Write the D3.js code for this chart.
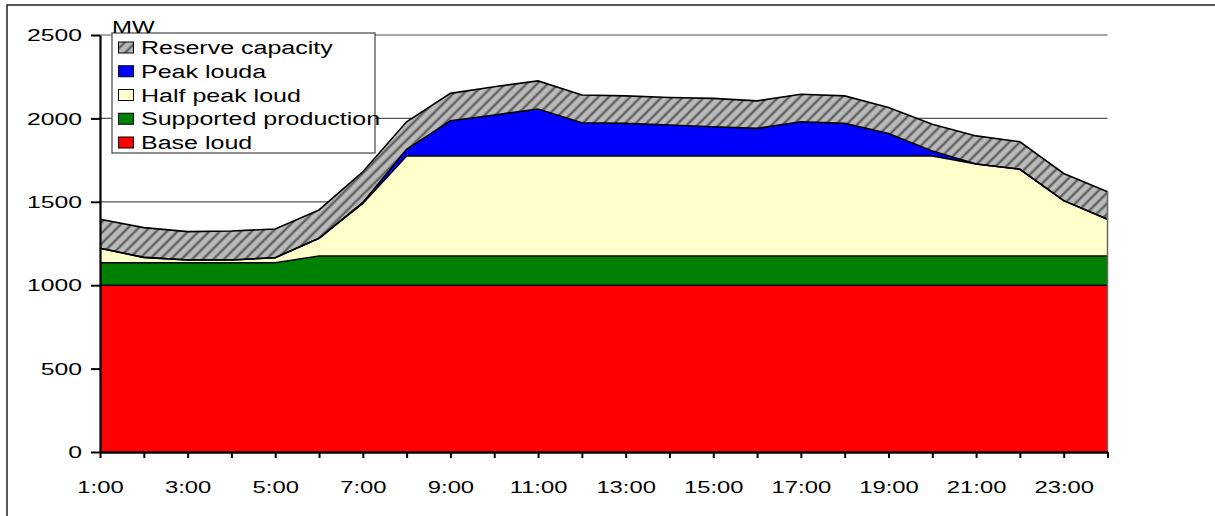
<!DOCTYPE html>
<html>
<head>
<meta charset="utf-8">
<script src="https://cdn.jsdelivr.net/npm/d3@7"></script>
<style>
  body { margin: 0; background: white; }
  text { font-family: "Liberation Sans", Arial, sans-serif; fill: black; }
</style>
</head>
<body>
<div id="chart"></div>
<script>
// data (MW)
var hours = ['1:00','2:00','3:00','4:00','5:00','6:00','7:00','8:00','9:00','10:00','11:00','12:00',
             '13:00','14:00','15:00','16:00','17:00','18:00','19:00','20:00','21:00','22:00','23:00','24:00'];
var baseLoad   = [1000,1000,1000,1000,1000,1000,1000,1000,1000,1000,1000,1000,1000,1000,1000,1000,1000,1000,1000,1000,1000,1000,1000,1000];
var supported  = [135,135,135,135,135,175,175,175,175,175,175,175,175,175,175,175,175,175,175,175,175,175,175,175];
var halfPeak   = [86,32,16,16,30,106,316,600,600,600,600,600,600,600,600,600,600,600,600,600,552,520,332,220];
var peakLoad   = [0,0,0,0,0,0,5,40,211,245,281,199,195,185,175,165,205,195,135,30,0,0,0,0];
var reserve    = [174,178,170,174,172,170,184,165,164,170,169,166,165,165,170,165,165,165,155,160,168,165,163,165];
var yTicks = [0,500,1000,1500,2000,2500];

var seriesKeys   = ['base','supported','half','peak','reserve'];
var legendLabels = ['Reserve capacity','Peak louda','Half peak loud','Supported production','Base loud'];

var svgWidth = 1215, svgHeight = 516;
var plotLeft = 100, plotRight = 1107.5, plotTop = 35, plotBottom = 452;

var svg = d3.select('#chart').append('svg')
    .attr('width', svgWidth)
    .attr('height', svgHeight)

var defs = svg.append('defs')
var grad = defs.append('linearGradient').attr('id', 'stripeGrad')
    .attr('x1', 0).attr('x2', 1).attr('y1', 0).attr('y2', 0)
grad.append('stop').attr('offset', 0).attr('stop-color', '#bebebe')
grad.append('stop').attr('offset', 0.3).attr('stop-color', '#b4b4b4')
grad.append('stop').attr('offset', 0.55).attr('stop-color', '#4e4e4e')
grad.append('stop').attr('offset', 0.8).attr('stop-color', '#b4b4b4')
grad.append('stop').attr('offset', 1).attr('stop-color', '#bebebe')
var pat = defs.append('pattern').attr('id', 'hatch')
    .attr('patternUnits', 'userSpaceOnUse')
    .attr('width', 7.5).attr('height', 7.5)
    .attr('patternTransform', 'rotate(45)')
pat.append('rect').attr('width', 7.5).attr('height', 7.5).attr('fill', 'url(#stripeGrad)')

var colors = {base: '#ff0000', supported: '#008000', half: '#ffffcc', peak: '#0000ff', reserve: 'url(#hatch)'}

//outer frame
svg.append('rect')
    .attr('x', 7).attr('y', 5)
    .attr('width', 1300).attr('height', 600)
    .attr('fill', 'none').attr('stroke', '#222').attr('stroke-width', 1.5)

var x = d3.scalePoint().domain(hours).range([plotLeft, plotRight]).padding(0)
var y = d3.scaleLinear().domain([0, 2500]).range([plotBottom, plotTop])

//gridlines
svg.append('g').selectAll('line').data(yTicks.slice(1)).enter().append('line')
    .attr('x1', plotLeft).attr('x2', plotRight)
    .attr('y1', function(d) { return y(d) }).attr('y2', function(d) { return y(d) })
    .attr('stroke', '#555').attr('stroke-width', 1.2)

var rows = hours.map(function(h, i) {
    return {hour: h, base: baseLoad[i], supported: supported[i], half: halfPeak[i], peak: peakLoad[i], reserve: reserve[i]}
})
var stacked = d3.stack().keys(seriesKeys)(rows)

var area = d3.area()
    .x(function(d) { return x(d.data.hour) })
    .y0(function(d) { return y(d[0]) })
    .y1(function(d) { return y(d[1]) })
var topLine = d3.line()
    .x(function(d) { return x(d.data.hour) })
    .y(function(d) { return y(d[1]) })

svg.append('g').selectAll('path').data(stacked).enter().append('path')
    .attr('d', area)
    .attr('fill', function(s) { return colors[s.key] })
    .attr('stroke', 'none')

svg.append('g').selectAll('path').data(stacked).enter().append('path')
    .attr('d', topLine)
    .attr('fill', 'none')
    .attr('stroke', 'black').attr('stroke-width', 1.6)

//right edge of the stack
var last = stacked[stacked.length - 1][hours.length - 1]
svg.append('line')
    .attr('x1', x(hours[hours.length - 1])).attr('x2', x(hours[hours.length - 1]))
    .attr('y1', y(0)).attr('y2', y(last[1]))
    .attr('stroke', '#666').attr('stroke-width', 1.5)

//y axis
var yAxis = svg.append('g').attr('transform', 'translate(' + plotLeft + ',0)')
    .call(d3.axisLeft(y).tickValues(yTicks).tickFormat(d3.format('d')).tickSize(9).tickSizeOuter(0))
yAxis.select('.domain').attr('stroke', 'black').attr('stroke-width', 2.2)
yAxis.selectAll('.tick line').attr('stroke', 'black').attr('stroke-width', 2)
yAxis.selectAll('.tick text')
    .attr('x', -12).attr('dy', '0.35em')
    .attr('transform', 'scale(1.5,1)')
    .attr('font-size', '16.5px')
    .attr('font-family', '"Liberation Sans", Arial, sans-serif')
    .attr('fill', 'black')

//x axis
var xAxis = svg.append('g').attr('transform', 'translate(0,' + plotBottom + ')')
    .call(d3.axisBottom(x).tickSize(6).tickSizeOuter(0)
        .tickFormat(function(d, i) { return i % 2 == 0 ? d : '' }))
xAxis.select('.domain').attr('stroke', 'black').attr('stroke-width', 2.4)
xAxis.selectAll('.tick line').attr('stroke', 'black').attr('stroke-width', 2)
xAxis.selectAll('.tick text')
    .attr('y', 41).attr('dy', 0)
    .attr('transform', 'scale(1.4,1)')
    .attr('font-size', '17px')
    .attr('font-family', '"Liberation Sans", Arial, sans-serif')
    .attr('fill', 'black')

//legend
svg.append('rect')
    .attr('x', 112).attr('y', 33)
    .attr('width', 263).attr('height', 120)
    .attr('fill', 'white').attr('stroke', '#444').attr('stroke-width', 1.2)

//MW label
svg.append('text')
    .text('MW')
    .attr('transform', 'translate(112,33) scale(1.5,1)')
    .attr('font-size', '16px')

var legendKeys = seriesKeys.slice().reverse()
var leg = svg.append('g').selectAll('g').data(legendKeys).enter().append('g')
    .attr('transform', function(d, i) { return 'translate(118,' + (54 + i * 23.75) + ')' })
leg.append('rect')
    .attr('x', 0.5).attr('y', -12)
    .attr('width', 15).attr('height', 11)
    .attr('fill', function(d) { return colors[d] })
    .attr('stroke', 'black').attr('stroke-width', 1)
leg.append('text')
    .text(function(d, i) { return legendLabels[i] })
    .attr('transform', 'translate(23,0) scale(1.39,1)')
    .attr('font-size', '18px')
</script>
</body>
</html>
